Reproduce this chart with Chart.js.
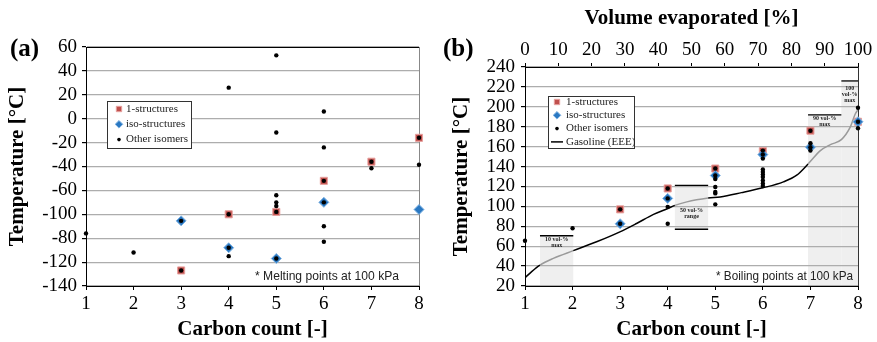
<!DOCTYPE html>
<html>
<head>
<meta charset="utf-8">
<script src="https://cdn.jsdelivr.net/npm/chart.js@4.4.0/dist/chart.umd.min.js"></script>
<style>
html, body { margin: 0; padding: 0; background: #fff; }
#wrap { position: relative; width: 877px; height: 342px; overflow: hidden; }
canvas { position: absolute; top: 0; }
#chartA { left: 0; }
#chartB { left: 440px; }
</style>
</head>
<body>
<div id="wrap">
  <canvas id="chartA" width="440" height="342"></canvas>
  <canvas id="chartB" width="437" height="342"></canvas>
</div>
<script>
// Panel (a) - melting points
const carbonA1 = [3, 4, 5, 6, 7, 8];
const meltA1 = [-127, -80, -78, -52, -36, -16];
const carbonAIso = [3, 4, 5, 6, 8];
const meltAIso = [-85.5, -108, -117, -70, -76];
const carbonAOther = [1, 2, 3, 3, 4, 4, 4, 4, 5, 5, 5, 5, 5, 5, 5, 6, 6, 6, 6, 6, 6, 7, 7, 8, 8];
const meltAOther = [-96, -112, -85.5, -127, 26, -80, -108, -115, 53, -11.5, -64, -70, -73, -78, -117, 6, -24, -52, -70, -90, -103, -36, -41.5, -16, -38.5];
const yTicksA = [60, 40, 20, 0, -20, -40, -60, -80, -100, -120, -140];
const yTickLabelsA = ['60', '40', '20', '0', '-20', '-40', '-60', '-100', '-80', '-120', '-140'];

// Panel (b) - boiling points
const carbonB1 = [3, 4, 5, 6, 7, 8];
const boilB1 = [97, 118, 138, 155.5, 176, 185];
const carbonBIso = [3, 4, 5, 6, 7, 8];
const boilBIso = [82.5, 108, 131, 152, 159.5, 185];
const carbonBOther = [1, 2, 3, 3, 4, 4, 4, 4, 5, 5, 5, 5, 5, 5, 5, 6, 6, 6, 6, 6, 6, 6, 6, 6, 6, 7, 7, 7, 7, 8, 8, 8];
const boilBOther = [65.5, 78, 97, 82.5, 118, 108, 99.5, 82.5, 138, 131, 127.5, 119.5, 114.5, 113, 102,
                    156, 152, 148, 137, 134.5, 132, 129.5, 126, 123, 120.5, 176, 163.5, 159.5, 156, 199, 185, 178.5];

// Gasoline (EEE) distillation curve
const volEvap = [0, 2, 4.5, 8.5, 14.5, 21.5, 28.5, 33.5, 38.6, 42.9, 45, 48.6, 55, 58.6, 65, 71.4, 77.6, 81.6, 85, 88.7, 91.7, 95, 97.7, 99.2, 100];
const gasTemp = [28.3, 34.5, 41, 47.7, 55.5, 64.4, 74.4, 82.8, 91.9, 97.9, 101, 104.5, 108.3, 109.5, 113.8, 118.6, 124.6, 131.3, 142.5, 156, 162, 167, 179.8, 193, 197];

// spec limits (vol-% ranges and temperatures)
const boxVolFrom = [4.5, 45, 85, 95];
const boxVolTo = [14.5, 55, 95, 100];
const boxTempLow = [20, 77, 20, 20];
const boxTempHigh = [70.5, 121, 192, 226];
const boxLabels = [['10 vol-%', 'max'], ['50 vol-%', 'range'], ['90 vol-%', 'max'], ['100', 'vol-%', 'max']];

const serif = "'Liberation Serif', 'Times New Roman', serif";
const sans = "'Liberation Sans', Arial, sans-serif";

const pts = (xs, ys) => xs.map((x, i) => ({ x: x, y: ys[i] }));
const inBox = v => boxVolFrom.some((f, i) => v > f && v < boxVolTo[i]);

const squareStyle = { pointStyle: 'rect', pointRadius: 5, backgroundColor: '#c0504d', borderColor: '#e7a09e', borderWidth: 1 };
const diamondStyle = { pointStyle: 'rectRot', pointRadius: 5, backgroundColor: '#2a78c2', borderColor: '#7fb2e2', borderWidth: 1 };
const dotStyle = { pointStyle: 'circle', pointRadius: 2.2, backgroundColor: '#000', borderColor: '#000', borderWidth: 0 };

const panelExtras = {
    id: 'panelExtras',
    beforeDraw(chart, args, opts) {
        if (!opts.boxes) return;
        const ctx = chart.ctx;
        const xs = chart.scales.top, ys = chart.scales.y;
        ctx.save();
        ctx.fillStyle = '#efefef';
        boxVolFrom.forEach((f, i) => {
            const x0 = xs.getPixelForValue(f), x1 = xs.getPixelForValue(boxVolTo[i]);
            const y0 = ys.getPixelForValue(boxTempHigh[i]), y1 = ys.getPixelForValue(boxTempLow[i]);
            ctx.fillRect(x0, y0, x1 - x0, y1 - y0);
        });
        ctx.restore();
    },
    beforeDatasetsDraw(chart, args, opts) {
        const ctx = chart.ctx;
        const ca = chart.chartArea;
        ctx.save();
        // frame
        ctx.lineWidth = 1;
        if (opts.topLine) {
            ctx.strokeStyle = '#000';
            ctx.beginPath(); ctx.moveTo(ca.left, ca.top + 0.5); ctx.lineTo(ca.right, ca.top + 0.5); ctx.stroke();
        }
        ctx.strokeStyle = opts.rightColor;
        ctx.beginPath(); ctx.moveTo(ca.right + 0.5, ca.top); ctx.lineTo(ca.right + 0.5, ca.bottom); ctx.stroke();

        if (opts.boxes) {
            const xs = chart.scales.top, ys = chart.scales.y;
            ctx.strokeStyle = '#000';
            ctx.lineWidth = 1.3;
            ctx.fillStyle = '#222';
            ctx.font = 'bold 6px ' + serif;
            ctx.textAlign = 'center';
            ctx.textBaseline = 'middle';
            boxVolFrom.forEach((f, i) => {
                const x0 = xs.getPixelForValue(f), x1 = xs.getPixelForValue(boxVolTo[i]);
                const yT = ys.getPixelForValue(boxTempHigh[i]);
                const hasBottom = boxTempLow[i] > ys.min;
                ctx.beginPath(); ctx.moveTo(x0, yT); ctx.lineTo(x1, yT); ctx.stroke();
                let yl = yT + 4;
                if (hasBottom) {
                    const yB = ys.getPixelForValue(boxTempLow[i]);
                    ctx.beginPath(); ctx.moveTo(x0, yB); ctx.lineTo(x1, yB); ctx.stroke();
                    yl = (yT + yB) / 2 + 3;
                } else if (boxLabels[i].length > 2) {
                    yl = yT + 8;
                }
                boxLabels[i].forEach((t, k) => ctx.fillText(t, (x0 + x1) / 2, yl + k * 6));
            });
        }
        ctx.restore();
    },
    afterDraw(chart, args, opts) {
        const ctx = chart.ctx;
        const ca = chart.chartArea;
        ctx.save();
        // panel letter
        ctx.fillStyle = '#000';
        ctx.font = 'bold 25px ' + serif;
        ctx.textAlign = 'left';
        ctx.textBaseline = 'middle';
        ctx.fillText(opts.letter, opts.letterX, 50);

        // footnote
        ctx.font = '13px ' + sans;
        ctx.textAlign = 'right';
        ctx.fillStyle = '#222';
        ctx.fillText(opts.note, ca.right - opts.noteRight, ca.bottom - 10, opts.noteWidth);

        // legend
        const lg = opts.legend;
        const lx = ca.left + lg.dx, ly = ca.top + lg.dy;
        ctx.fillStyle = '#fff';
        ctx.fillRect(lx, ly, lg.w, lg.h);
        ctx.strokeStyle = '#333';
        ctx.lineWidth = 1;
        ctx.strokeRect(lx + 0.5, ly + 0.5, lg.w, lg.h);
        ctx.font = '11px ' + serif;
        ctx.textAlign = 'left';
        chart.data.datasets.slice().sort((a, b) => a.legendPos - b.legendPos).forEach((ds, k) => {
            const y = ly + lg.firstRow + k * lg.rowStep;
            const mx = lx + lg.markerDx;
            if (ds.type === 'line') {
                ctx.strokeStyle = '#000';
                ctx.lineWidth = 1.5;
                ctx.beginPath(); ctx.moveTo(mx - 6, y); ctx.lineTo(mx + 6, y); ctx.stroke();
            } else {
                ctx.fillStyle = ds.backgroundColor;
                ctx.strokeStyle = ds.borderColor;
                ctx.lineWidth = ds.borderWidth;
                Chart.helpers.drawPoint(ctx, {
                    pointStyle: ds.pointStyle,
                    radius: ds.pointStyle === 'circle' ? 1.8 : 3.8,
                    borderWidth: ds.borderWidth,
                    rotation: 0
                }, mx, y);
            }
            ctx.fillStyle = '#222';
            ctx.fillText(ds.label, lx + lg.textDx, y);
        });
        ctx.restore();
    }
};

function axisFont(size, bold) {
    return { family: serif, size: size, weight: bold ? 'bold' : 'normal' };
}

function tickOpts(step, pad, extra) {
    return Object.assign({
        stepSize: step, color: '#000', font: axisFont(19), padding: pad,
        autoSkip: false, maxRotation: 0, minRotation: 0
    }, extra || {});
}

// ---------- Chart (a) ----------
new Chart(document.getElementById('chartA'), {
    type: 'scatter',
    data: {
        datasets: [
            Object.assign({ label: 'Other isomers', data: pts(carbonAOther, meltAOther), order: 1, legendPos: 2, clip: false }, dotStyle),
            Object.assign({ label: 'iso-structures', data: pts(carbonAIso, meltAIso), order: 2, legendPos: 1, clip: false }, diamondStyle),
            Object.assign({ label: '1-structures', data: pts(carbonA1, meltA1), order: 3, legendPos: 0, clip: false }, squareStyle)
        ]
    },
    options: {
        responsive: false,
        animation: false,
        events: [],
        layout: { padding: { left: 0, right: 21, top: 47, bottom: 0 } },
        plugins: {
            legend: { display: false },
            tooltip: { enabled: false },
            panelExtras: {
                letter: '(a)', letterX: 10,
                topLine: true, rightColor: '#888',
                note: '* Melting points at 100 kPa', noteRight: 20, noteWidth: 144,
                legend: { dx: 21, dy: 54, w: 84, h: 47, firstRow: 8, rowStep: 15.3, markerDx: 12, textDx: 19 }
            }
        },
        scales: {
            x: {
                type: 'linear', min: 1, max: 8,
                ticks: tickOpts(1, 3),
                grid: { drawOnChartArea: false, tickLength: 4, tickColor: '#000' },
                border: { color: '#000', width: 1 },
                title: { display: true, text: 'Carbon count [-]', color: '#000', font: axisFont(21, true), padding: { top: 0, bottom: 0 } },
                afterFit: s => { s.height = 56; }
            },
            y: {
                type: 'linear', min: -140, max: 60,
                ticks: tickOpts(20, 5, { callback: v => yTickLabelsA[yTicksA.indexOf(v)] }),
                grid: { color: '#adadad', lineWidth: 1.2, tickLength: 4, tickColor: '#000' },
                border: { color: '#000', width: 1 },
                title: { display: true, text: 'Temperature [°C]', color: '#000', font: axisFont(21, true), padding: { top: 5, bottom: 0 } },
                afterFit: s => { s.width = 86; }
            }
        }
    },
    plugins: [panelExtras]
});

// ---------- Chart (b) ----------
new Chart(document.getElementById('chartB'), {
    type: 'scatter',
    data: {
        datasets: [
            Object.assign({ label: 'Other isomers', data: pts(carbonBOther, boilBOther), order: 1, legendPos: 2, clip: false }, dotStyle),
            Object.assign({ label: 'iso-structures', data: pts(carbonBIso, boilBIso), order: 2, legendPos: 1, clip: false }, diamondStyle),
            Object.assign({ label: '1-structures', data: pts(carbonB1, boilB1), order: 3, legendPos: 0, clip: false }, squareStyle),
            {
                type: 'line',
                label: 'Gasoline (EEE)',
                data: pts(volEvap, gasTemp),
                xAxisID: 'top',
                order: 4,
                legendPos: 3,
                borderColor: '#000',
                borderWidth: 1.5,
                pointRadius: 0,
                cubicInterpolationMode: 'monotone',
                segment: {
                    borderColor: c => inBox((c.p0.parsed.x + c.p1.parsed.x) / 2) ? '#9a9a9a' : '#000'
                }
            }
        ]
    },
    options: {
        responsive: false,
        animation: false,
        events: [],
        layout: { padding: { left: 0, right: 19, top: 0, bottom: 0 } },
        plugins: {
            legend: { display: false },
            tooltip: { enabled: false },
            panelExtras: {
                letter: '(b)', letterX: 3,
                boxes: true,
                topLine: false, rightColor: '#333',
                note: '* Boiling points at 100 kPa', noteRight: 5, noteWidth: 137,
                legend: { dx: 23, dy: 29, w: 86, h: 52, firstRow: 6, rowStep: 13.3, markerDx: 9, textDx: 18 }
            }
        },
        scales: {
            x: {
                type: 'linear', position: 'bottom', min: 1, max: 8,
                ticks: tickOpts(1, 3),
                grid: { drawOnChartArea: false, tickLength: 4, tickColor: '#000' },
                border: { color: '#000', width: 1 },
                title: { display: true, text: 'Carbon count [-]', color: '#000', font: axisFont(21, true), padding: { top: 0, bottom: 0 } },
                afterFit: s => { s.height = 56; }
            },
            top: {
                type: 'linear', position: 'top', min: 0, max: 100,
                ticks: tickOpts(10, 2),
                grid: { drawOnChartArea: false, tickLength: 4, tickColor: '#000' },
                border: { color: '#000', width: 1 },
                title: { display: true, text: 'Volume evaporated [%]', color: '#000', font: axisFont(21, true), padding: { top: 6, bottom: 0 } },
                afterFit: s => { s.height = 67; }
            },
            y: {
                type: 'linear', min: 20, max: 240,
                ticks: tickOpts(20, 6),
                grid: { color: '#adadad', lineWidth: 1.2, tickLength: 4, tickColor: '#000' },
                border: { color: '#000', width: 1 },
                title: { display: true, text: 'Temperature [°C]', color: '#000', font: axisFont(21, true), padding: { top: 9, bottom: 0 } },
                afterFit: s => { s.width = 85; }
            }
        }
    },
    plugins: [panelExtras]
});
</script>
</body>
</html>
